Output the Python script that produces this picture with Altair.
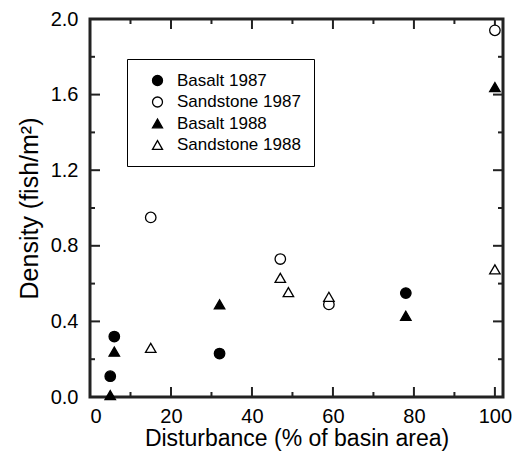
import altair as alt
import pandas as pd

# Data
series_names = ["Basalt 1987", "Sandstone 1987", "Basalt 1988", "Sandstone 1988"]
basalt87_x = [5, 6, 32, 78]
basalt87_y = [0.11, 0.32, 0.23, 0.55]
sand87_x = [15, 47, 59, 100]
sand87_y = [0.95, 0.73, 0.49, 1.94]
basalt88_x = [5, 6, 32, 78, 100]
basalt88_y = [0.01, 0.24, 0.49, 0.43, 1.64]
sand88_x = [15, 47, 49, 59, 100]
sand88_y = [0.26, 0.63, 0.555, 0.53, 0.675]

x_major = [0, 20, 40, 60, 80, 100]
x_minor = [10, 30, 50, 70, 90]
y_major = [0.0, 0.4, 0.8, 1.2, 1.6, 2.0]
y_minor = [0.2, 0.6, 1.0, 1.4, 1.8]

rows = []
for name, xs, ys in zip(series_names,
                        [basalt87_x, sand87_x, basalt88_x, sand88_x],
                        [basalt87_y, sand87_y, basalt88_y, sand88_y]):
    for xv, yv in zip(xs, ys):
        rows.append({"series": name, "x": xv, "y": yv})
df = pd.DataFrame(rows)

FONT = "Liberation Sans"
W, H = 413, 378
MAJ, MIN = 10, 5
LW = 3
LINE = "#222222"

x_scale = alt.Scale(domain=[0, 102], nice=False, zero=False)
y_scale = alt.Scale(domain=[0, 2.0], nice=False, zero=False)

legend = alt.Legend(
    title=None, orient="none", legendX=37, legendY=40,
    strokeColor="black", padding=13, fillColor="white",
    labelFont=FONT, labelFontSize=17, labelColor="black",
    symbolSize=100, symbolStrokeWidth=1.3,
    rowPadding=3.5, symbolOffset=9, labelOffset=11,
)

shape_scale = alt.Scale(domain=series_names,
                        range=["circle", "circle", "triangle-up", "triangle-up"])
fill_scale = alt.Scale(domain=series_names,
                       range=["black", "white", "black", "white"])
stroke_scale = alt.Scale(domain=series_names,
                         range=["black", "black", "black", "black"])

points = alt.Chart(df).mark_point(
    filled=True, strokeWidth=1.3, size=110, opacity=1
).encode(
    x=alt.X("x:Q", scale=x_scale,
            axis=alt.Axis(title="Disturbance (% of basin area)", values=x_major,
                          format="d", ticks=False, grid=False, domain=False,
                          labelPadding=9, labelFontSize=20, labelFont=FONT,
                          labelColor="black", titleFont=FONT, titleFontSize=23,
                          titleFontWeight="normal", titleColor="black",
                          titlePadding=1)),
    y=alt.Y("y:Q", scale=y_scale,
            axis=alt.Axis(title="Density (fish/m²)", values=y_major,
                          format=".1f", ticks=False, grid=False, domain=False,
                          labelPadding=12, labelFontSize=20, labelFont=FONT,
                          labelColor="black", titleFont=FONT, titleFontSize=25,
                          titleFontWeight="normal", titleColor="black",
                          titlePadding=8)),
    shape=alt.Shape("series:N", scale=shape_scale, legend=legend, sort=series_names),
    fill=alt.Fill("series:N", scale=fill_scale, legend=legend, sort=series_names),
    stroke=alt.Stroke("series:N", scale=stroke_scale, legend=legend, sort=series_names),
)

# frame of the plot area
frame = alt.Chart(pd.DataFrame({"f": [0]})).mark_rect(
    fillOpacity=0, stroke=LINE, strokeWidth=LW
).encode(x=alt.value(0), x2=alt.value(W), y=alt.value(0), y2=alt.value(H))


def xticks(vals, length):
    d = pd.DataFrame({"t": vals})
    base = alt.Chart(d).mark_rule(color=LINE, strokeWidth=2)
    bottom = base.encode(x=alt.X("t:Q", scale=x_scale), y=alt.value(H), y2=alt.value(H - length))
    top = base.encode(x=alt.X("t:Q", scale=x_scale), y=alt.value(0), y2=alt.value(length))
    return [bottom, top]


def yticks(vals, length):
    d = pd.DataFrame({"t": vals})
    base = alt.Chart(d).mark_rule(color=LINE, strokeWidth=2)
    left = base.encode(y=alt.Y("t:Q", scale=y_scale), x=alt.value(0), x2=alt.value(length))
    right = base.encode(y=alt.Y("t:Q", scale=y_scale), x=alt.value(W), x2=alt.value(W - length))
    return [left, right]


tick_layers = xticks(x_major, MAJ) + xticks(x_minor, MIN) + yticks(y_major, MAJ) + yticks(y_minor, MIN)

chart = alt.layer(frame, *tick_layers, points).properties(
    width=W, height=H,
    background="white",
    autosize=alt.AutoSizeParams(type="none"),
    padding={"left": 82, "top": 11, "right": 10, "bottom": 55},
).configure_view(
    strokeWidth=0
)

chart.save("out.html", embed_options={"renderer": "svg", "actions": False})
